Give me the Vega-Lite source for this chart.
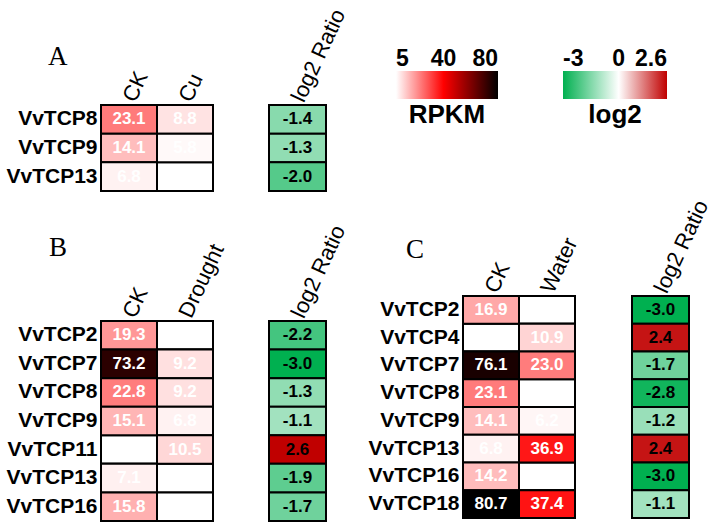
{
  "$schema": "https://vega.github.io/schema/vega-lite/v6.json",
  "padding": {"left": 5, "top": 5, "right": 5, "bottom": 5},
  "background": "white",
  "config": {
    "font": "Liberation Sans",
    "view": {"stroke": null},
    "locale": {"number": {"decimal": ".", "thousands": ",", "grouping": [3], "currency": ["$", ""], "minus": "-"}},
    "axis": {"labelColor": "black", "title": null, "ticks": false, "tickSize": 0, "domain": false, "grid": false}
  },
  "datasets": {
    "heatA": [
      {"gene": "VvTCP8", "cond": "CK", "rpkm": 23.1},
      {"gene": "VvTCP9", "cond": "CK", "rpkm": 14.1},
      {"gene": "VvTCP13", "cond": "CK", "rpkm": 6.8},
      {"gene": "VvTCP8", "cond": "Cu", "rpkm": 8.8},
      {"gene": "VvTCP9", "cond": "Cu", "rpkm": 5.8},
      {"gene": "VvTCP13", "cond": "Cu", "rpkm": null}
    ],
    "ratioA": [
      {"gene": "VvTCP8", "ratio": -1.4},
      {"gene": "VvTCP9", "ratio": -1.3},
      {"gene": "VvTCP13", "ratio": -2.0}
    ],
    "heatB": [
      {"gene": "VvTCP2", "cond": "CK", "rpkm": 19.3},
      {"gene": "VvTCP7", "cond": "CK", "rpkm": 73.2},
      {"gene": "VvTCP8", "cond": "CK", "rpkm": 22.8},
      {"gene": "VvTCP9", "cond": "CK", "rpkm": 15.1},
      {"gene": "VvTCP11", "cond": "CK", "rpkm": null},
      {"gene": "VvTCP13", "cond": "CK", "rpkm": 7.1},
      {"gene": "VvTCP16", "cond": "CK", "rpkm": 15.8},
      {"gene": "VvTCP2", "cond": "Drought", "rpkm": null},
      {"gene": "VvTCP7", "cond": "Drought", "rpkm": 9.2},
      {"gene": "VvTCP8", "cond": "Drought", "rpkm": 9.2},
      {"gene": "VvTCP9", "cond": "Drought", "rpkm": 6.8},
      {"gene": "VvTCP11", "cond": "Drought", "rpkm": 10.5},
      {"gene": "VvTCP13", "cond": "Drought", "rpkm": null},
      {"gene": "VvTCP16", "cond": "Drought", "rpkm": null}
    ],
    "ratioB": [
      {"gene": "VvTCP2", "ratio": -2.2},
      {"gene": "VvTCP7", "ratio": -3.0},
      {"gene": "VvTCP8", "ratio": -1.3},
      {"gene": "VvTCP9", "ratio": -1.1},
      {"gene": "VvTCP11", "ratio": 2.6},
      {"gene": "VvTCP13", "ratio": -1.9},
      {"gene": "VvTCP16", "ratio": -1.7}
    ],
    "heatC": [
      {"gene": "VvTCP2", "cond": "CK", "rpkm": 16.9},
      {"gene": "VvTCP4", "cond": "CK", "rpkm": null},
      {"gene": "VvTCP7", "cond": "CK", "rpkm": 76.1},
      {"gene": "VvTCP8", "cond": "CK", "rpkm": 23.1},
      {"gene": "VvTCP9", "cond": "CK", "rpkm": 14.1},
      {"gene": "VvTCP13", "cond": "CK", "rpkm": 6.8},
      {"gene": "VvTCP16", "cond": "CK", "rpkm": 14.2},
      {"gene": "VvTCP18", "cond": "CK", "rpkm": 80.7},
      {"gene": "VvTCP2", "cond": "Water", "rpkm": null},
      {"gene": "VvTCP4", "cond": "Water", "rpkm": 10.9},
      {"gene": "VvTCP7", "cond": "Water", "rpkm": 23.0},
      {"gene": "VvTCP8", "cond": "Water", "rpkm": null},
      {"gene": "VvTCP9", "cond": "Water", "rpkm": 6.2},
      {"gene": "VvTCP13", "cond": "Water", "rpkm": 36.9},
      {"gene": "VvTCP16", "cond": "Water", "rpkm": null},
      {"gene": "VvTCP18", "cond": "Water", "rpkm": 37.4}
    ],
    "ratioC": [
      {"gene": "VvTCP2", "ratio": -3.0},
      {"gene": "VvTCP4", "ratio": 2.4},
      {"gene": "VvTCP7", "ratio": -1.7},
      {"gene": "VvTCP8", "ratio": -2.8},
      {"gene": "VvTCP9", "ratio": -1.2},
      {"gene": "VvTCP13", "ratio": 2.4},
      {"gene": "VvTCP16", "ratio": -3.0},
      {"gene": "VvTCP18", "ratio": -1.1}
    ]
  },
  "bounds": "flush",
  "spacing": 362,
  "hconcat": [
    {
      "bounds": "flush",
      "spacing": 216,
      "vconcat": [
        {
          "bounds": "flush",
          "spacing": 56,
          "hconcat": [
            {
              "width": 112, "height": 86,
              "data": {"name": "heatA"},
              "title": {"text": "A", "font": "Liberation Serif", "fontSize": 27, "fontWeight": "normal", "color": "black", "anchor": "start", "frame": "group", "dx": -53, "dy": 3, "offset": 0},
              "encoding": {
                "x": {"field": "cond", "type": "nominal", "sort": ["CK", "Cu"], "scale": {"padding": 0}, "axis": {"orient": "top", "labelAngle": -65, "labelFontSize": 22, "labelPadding": 5}},
                "y": {"field": "gene", "type": "nominal", "sort": ["VvTCP8", "VvTCP9", "VvTCP13"], "scale": {"padding": 0}, "axis": {"labelFontSize": 21, "labelFontWeight": "bold", "labelPadding": 4}}
              },
              "layer": [
                {"mark": {"type": "rect", "fill": "white", "stroke": "black", "strokeWidth": 2}},
                {"transform": [{"filter": "datum.rpkm != null"}], "mark": {"type": "rect", "stroke": "black", "strokeWidth": 2},
                 "encoding": {"fill": {"field": "rpkm", "type": "quantitative", "scale": {"domain": [5, 40, 80], "range": ["#ffffff", "#ff0000", "#000000"], "interpolate": "rgb", "clamp": true},
                   "legend": {"orient": "none", "legendX": 295, "legendY": -34, "direction": "horizontal", "gradientLength": 102, "gradientThickness": 28, "gradientStrokeWidth": 0, "values": [5, 40, 80], "format": ".2~f", "title": "RPKM", "titleOrient": "bottom", "titleAnchor": "middle", "titleFontSize": 26, "titleFontWeight": "bold", "titleColor": "black", "titleBaseline": "top", "titlePadding": 3, "labelFontSize": 23, "labelFontWeight": "bold", "labelColor": "black", "labelOffset": -51}}}},
                {"transform": [{"filter": "datum.rpkm != null"}], "mark": {"type": "text", "color": "white", "fontWeight": "bold", "fontSize": 17},
                 "encoding": {"text": {"field": "rpkm", "type": "quantitative", "format": ".1f"}}}
              ]
            },
            {
              "width": 57, "height": 86,
              "data": {"name": "ratioA"},
              "encoding": {
                "x": {"datum": "log2 Ratio", "type": "nominal", "scale": {"padding": 0}, "axis": {"orient": "top", "labelAngle": -65, "labelFontSize": 22, "labelPadding": 5}},
                "y": {"field": "gene", "type": "nominal", "sort": ["VvTCP8", "VvTCP9", "VvTCP13"], "scale": {"padding": 0}, "axis": null}
              },
              "layer": [
                {"mark": {"type": "rect", "stroke": "black", "strokeWidth": 2},
                 "encoding": {"color": {"field": "ratio", "type": "quantitative", "scale": {"domain": [-3, 0, 2.6], "range": ["#00b050", "#ffffff", "#c00000"], "interpolate": "rgb", "clamp": true},
                   "legend": {"orient": "none", "legendX": 462, "legendY": -34, "direction": "horizontal", "gradientLength": 104, "gradientThickness": 28, "gradientStrokeWidth": 0, "values": [-3, 0, 2.6], "format": ".2~f", "title": "log2", "titleOrient": "bottom", "titleAnchor": "middle", "titleFontSize": 26, "titleFontWeight": "bold", "titleColor": "black", "titleBaseline": "top", "titlePadding": 3, "labelFontSize": 23, "labelFontWeight": "bold", "labelColor": "black", "labelOffset": -51}}}},
                {"mark": {"type": "text", "color": "black", "fontWeight": "bold", "fontSize": 17},
                 "encoding": {"text": {"field": "ratio", "type": "quantitative", "format": ".1f"}}}
              ]
            }
          ]
        },
        {
          "bounds": "flush",
          "spacing": 56,
          "hconcat": [
            {
              "width": 112, "height": 200,
              "data": {"name": "heatB"},
              "title": {"text": "B", "font": "Liberation Serif", "fontSize": 27, "fontWeight": "normal", "color": "black", "anchor": "start", "frame": "group", "dx": -52, "dy": 22, "offset": 0},
              "encoding": {
                "x": {"field": "cond", "type": "nominal", "sort": ["CK", "Drought"], "scale": {"padding": 0}, "axis": {"orient": "top", "labelAngle": -65, "labelFontSize": 22, "labelPadding": 5}},
                "y": {"field": "gene", "type": "nominal", "sort": ["VvTCP2", "VvTCP7", "VvTCP8", "VvTCP9", "VvTCP11", "VvTCP13", "VvTCP16"], "scale": {"padding": 0}, "axis": {"labelFontSize": 21, "labelFontWeight": "bold", "labelPadding": 4}}
              },
              "layer": [
                {"mark": {"type": "rect", "fill": "white", "stroke": "black", "strokeWidth": 2}},
                {"transform": [{"filter": "datum.rpkm != null"}], "mark": {"type": "rect", "stroke": "black", "strokeWidth": 2},
                 "encoding": {"fill": {"field": "rpkm", "type": "quantitative", "scale": {"domain": [5, 40, 80], "range": ["#ffffff", "#ff0000", "#000000"], "interpolate": "rgb", "clamp": true},
                   "legend": {"orient": "none", "legendX": 295, "legendY": -34, "direction": "horizontal", "gradientLength": 102, "gradientThickness": 28, "gradientStrokeWidth": 0, "values": [5, 40, 80], "format": ".2~f", "title": "RPKM", "titleOrient": "bottom", "titleAnchor": "middle", "titleFontSize": 26, "titleFontWeight": "bold", "titleColor": "black", "titleBaseline": "top", "titlePadding": 3, "labelFontSize": 23, "labelFontWeight": "bold", "labelColor": "black", "labelOffset": -51}}}},
                {"transform": [{"filter": "datum.rpkm != null"}], "mark": {"type": "text", "color": "white", "fontWeight": "bold", "fontSize": 17},
                 "encoding": {"text": {"field": "rpkm", "type": "quantitative", "format": ".1f"}}}
              ]
            },
            {
              "width": 57, "height": 200,
              "data": {"name": "ratioB"},
              "encoding": {
                "x": {"datum": "log2 Ratio", "type": "nominal", "scale": {"padding": 0}, "axis": {"orient": "top", "labelAngle": -65, "labelFontSize": 22, "labelPadding": 5}},
                "y": {"field": "gene", "type": "nominal", "sort": ["VvTCP2", "VvTCP7", "VvTCP8", "VvTCP9", "VvTCP11", "VvTCP13", "VvTCP16"], "scale": {"padding": 0}, "axis": null}
              },
              "layer": [
                {"mark": {"type": "rect", "stroke": "black", "strokeWidth": 2},
                 "encoding": {"color": {"field": "ratio", "type": "quantitative", "scale": {"domain": [-3, 0, 2.6], "range": ["#00b050", "#ffffff", "#c00000"], "interpolate": "rgb", "clamp": true},
                   "legend": {"orient": "none", "legendX": 462, "legendY": -34, "direction": "horizontal", "gradientLength": 104, "gradientThickness": 28, "gradientStrokeWidth": 0, "values": [-3, 0, 2.6], "format": ".2~f", "title": "log2", "titleOrient": "bottom", "titleAnchor": "middle", "titleFontSize": 26, "titleFontWeight": "bold", "titleColor": "black", "titleBaseline": "top", "titlePadding": 3, "labelFontSize": 23, "labelFontWeight": "bold", "labelColor": "black", "labelOffset": -51}}}},
                {"mark": {"type": "text", "color": "black", "fontWeight": "bold", "fontSize": 17},
                 "encoding": {"text": {"field": "ratio", "type": "quantitative", "format": ".1f"}}}
              ]
            }
          ]
        }
      ]
    },
    {
      "bounds": "flush",
      "spacing": 190,
      "vconcat": [
        {
          "width": 1, "height": 1,
          "data": {"values": [{"s": 0}]},
          "mark": {"type": "point", "opacity": 0},
          "encoding": {}
        },
        {
          "bounds": "flush",
          "spacing": 57,
          "hconcat": [
            {
              "width": 112, "height": 222,
              "data": {"name": "heatC"},
              "title": {"text": "C", "font": "Liberation Serif", "fontSize": 27, "fontWeight": "normal", "color": "black", "anchor": "start", "frame": "group", "dx": -57, "dy": 30, "offset": 0},
              "encoding": {
                "x": {"field": "cond", "type": "nominal", "sort": ["CK", "Water"], "scale": {"padding": 0}, "axis": {"orient": "top", "labelAngle": -65, "labelFontSize": 22, "labelPadding": 5}},
                "y": {"field": "gene", "type": "nominal", "sort": ["VvTCP2", "VvTCP4", "VvTCP7", "VvTCP8", "VvTCP9", "VvTCP13", "VvTCP16", "VvTCP18"], "scale": {"padding": 0}, "axis": {"labelFontSize": 21, "labelFontWeight": "bold", "labelPadding": 4}}
              },
              "layer": [
                {"mark": {"type": "rect", "fill": "white", "stroke": "black", "strokeWidth": 2}},
                {"transform": [{"filter": "datum.rpkm != null"}], "mark": {"type": "rect", "stroke": "black", "strokeWidth": 2},
                 "encoding": {"fill": {"field": "rpkm", "type": "quantitative", "scale": {"domain": [5, 40, 80], "range": ["#ffffff", "#ff0000", "#000000"], "interpolate": "rgb", "clamp": true},
                   "legend": {"orient": "none", "legendX": 295, "legendY": -34, "direction": "horizontal", "gradientLength": 102, "gradientThickness": 28, "gradientStrokeWidth": 0, "values": [5, 40, 80], "format": ".2~f", "title": "RPKM", "titleOrient": "bottom", "titleAnchor": "middle", "titleFontSize": 26, "titleFontWeight": "bold", "titleColor": "black", "titleBaseline": "top", "titlePadding": 3, "labelFontSize": 23, "labelFontWeight": "bold", "labelColor": "black", "labelOffset": -51}}}},
                {"transform": [{"filter": "datum.rpkm != null"}], "mark": {"type": "text", "color": "white", "fontWeight": "bold", "fontSize": 17},
                 "encoding": {"text": {"field": "rpkm", "type": "quantitative", "format": ".1f"}}}
              ]
            },
            {
              "width": 57, "height": 222,
              "data": {"name": "ratioC"},
              "encoding": {
                "x": {"datum": "log2 Ratio", "type": "nominal", "scale": {"padding": 0}, "axis": {"orient": "top", "labelAngle": -65, "labelFontSize": 22, "labelPadding": 5}},
                "y": {"field": "gene", "type": "nominal", "sort": ["VvTCP2", "VvTCP4", "VvTCP7", "VvTCP8", "VvTCP9", "VvTCP13", "VvTCP16", "VvTCP18"], "scale": {"padding": 0}, "axis": null}
              },
              "layer": [
                {"mark": {"type": "rect", "stroke": "black", "strokeWidth": 2},
                 "encoding": {"color": {"field": "ratio", "type": "quantitative", "scale": {"domain": [-3, 0, 2.6], "range": ["#00b050", "#ffffff", "#c00000"], "interpolate": "rgb", "clamp": true},
                   "legend": {"orient": "none", "legendX": 462, "legendY": -34, "direction": "horizontal", "gradientLength": 104, "gradientThickness": 28, "gradientStrokeWidth": 0, "values": [-3, 0, 2.6], "format": ".2~f", "title": "log2", "titleOrient": "bottom", "titleAnchor": "middle", "titleFontSize": 26, "titleFontWeight": "bold", "titleColor": "black", "titleBaseline": "top", "titlePadding": 3, "labelFontSize": 23, "labelFontWeight": "bold", "labelColor": "black", "labelOffset": -51}}}},
                {"mark": {"type": "text", "color": "black", "fontWeight": "bold", "fontSize": 17},
                 "encoding": {"text": {"field": "ratio", "type": "quantitative", "format": ".1f"}}}
              ]
            }
          ]
        }
      ]
    }
  ]
}
